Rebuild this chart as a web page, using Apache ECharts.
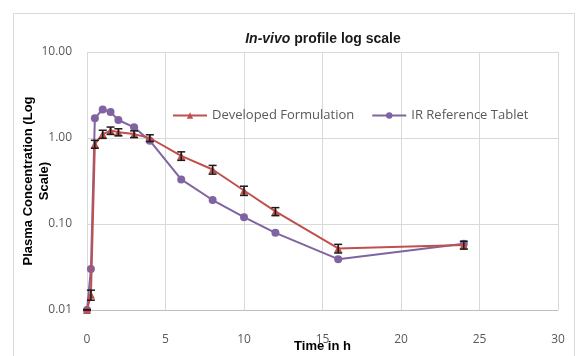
<!DOCTYPE html>
<html>
<head>
<meta charset="utf-8">
<script src="https://cdn.jsdelivr.net/npm/echarts@6/dist/echarts.min.js"></script>
<style>
  html, body { margin: 0; padding: 0; background: #fff; }
  #chart { width: 578px; height: 356px; }
</style>
</head>
<body>
<div id="chart"></div>
<script>
// time points (h)
const timeH = [0, 0.25, 0.5, 1, 1.5, 2, 3, 4, 6, 8, 10, 12, 16, 24]
// mean plasma concentration, developed formulation
const developed = [0.01, 0.015, 0.85, 1.11, 1.22, 1.17, 1.11, 1.0, 0.62, 0.43, 0.245, 0.14, 0.052, 0.057]
// standard deviation for the error bars
const developedSD = [0, 0.002, 0.09, 0.12, 0.12, 0.11, 0.1, 0.09, 0.07, 0.05, 0.03, 0.015, 0.006, 0.006]
// IR reference tablet
const irRef = [0.01, 0.03, 1.7, 2.15, 2.0, 1.62, 1.33, 0.93, 0.33, 0.19, 0.12, 0.079, 0.039, 0.059]
const xTicks = [0, 5, 10, 15, 20, 25, 30]
const yTicks = [0.01, 0.1, 1, 10]

const chart = echarts.init(document.getElementById('chart'))
const labelFont = '"Open Sans", "Liberation Sans", sans-serif'

const option = {
  animation: false,
  textStyle: { fontFamily: labelFont },
  graphic: [{
    type: 'rect',
    shape: { x: 13.5, y: 13.5, width: 561, height: 360 },
    style: { fill: 'none', stroke: '#d9d9d9', lineWidth: 1 },
    silent: true
  }],
  title: {
    text: '{i|In-vivo} profile log scale',
    left: 318,
    textAlign: 'center',
    top: 27,
    textStyle: {
      fontSize: 14,
      fontWeight: 'bold',
      color: '#1a1a1a',
      fontFamily: '"Liberation Sans", sans-serif',
      rich: {
        i: { fontSize: 14, fontWeight: 'bold', fontStyle: 'italic', color: '#1a1a1a', fontFamily: '"Liberation Sans", sans-serif' }
      }
    }
  },
  legend: {
    left: 167,
    top: 104,
    itemWidth: 34,
    itemHeight: 8,
    itemGap: 17,
    textStyle: { fontSize: 13, color: '#595959', fontFamily: labelFont },
    data: ['Developed Formulation', 'IR Reference Tablet']
  },
  grid: { left: 87, right: 20, top: 52, bottom: 46, containLabel: false, outerBoundsMode: 'none' },
  xAxis: {
    type: 'value',
    min: xTicks[0],
    max: xTicks[xTicks.length - 1],
    interval: 5,
    name: 'Time in h',
    nameLocation: 'middle',
    nameGap: 30,
    nameMoveOverlap: false,
    nameTextStyle: { fontSize: 13, fontWeight: 'bold', color: '#000', fontFamily: '"Liberation Sans", sans-serif' },
    axisLine: { show: true, lineStyle: { color: '#bfbfbf' } },
    axisTick: { show: false },
    axisLabel: { margin: 24, fontSize: 12, color: '#595959' },
    splitLine: { show: true, lineStyle: { color: '#d9d9d9' } }
  },
  yAxis: {
    type: 'log',
    logBase: 10,
    min: yTicks[0],
    max: yTicks[yTicks.length - 1],
    name: 'Plasma Concentration (Log\nScale)',
    nameLocation: 'middle',
    nameRotate: 90,
    nameGap: 35,
    nameMoveOverlap: false,
    nameTextStyle: { fontSize: 13, fontWeight: 'bold', color: '#000', lineHeight: 16, fontFamily: '"Liberation Sans", sans-serif' },
    axisLine: { show: false },
    axisTick: { show: false },
    minorTick: { show: false },
    axisLabel: { margin: 15, fontSize: 12, color: '#595959', formatter: v => v.toFixed(2) },
    splitLine: { show: true, lineStyle: { color: '#d9d9d9' } }
  },
  series: [
    {
      name: 'Developed Formulation',
      type: 'line',
      data: timeH.map((t, i) => [t, developed[i]]),
      symbol: 'triangle',
      symbolSize: 8,
      itemStyle: { color: '#C0504D' },
      lineStyle: { color: '#C0504D', width: 2 },
      z: 3
    },
    {
      name: 'IR Reference Tablet',
      type: 'line',
      data: timeH.map((t, i) => [t, irRef[i]]),
      symbol: 'circle',
      symbolSize: 8,
      itemStyle: { color: '#8064A2' },
      lineStyle: { color: '#8064A2', width: 2 },
      z: 2
    },
    {
      name: 'error',
      type: 'custom',
      z: 4,
      data: timeH.map((t, i) => [t, Math.max(developed[i] - developedSD[i], 0.0101), developed[i] + developedSD[i]]),
      renderItem (params, api) {
        const lo = api.coord([api.value(0), api.value(1)])
        const hi = api.coord([api.value(0), api.value(2)])
        const w = 4
        const style = { stroke: '#1a1a1a', lineWidth: 1.5 }
        return {
          type: 'group',
          children: [
            { type: 'line', shape: { x1: lo[0], y1: lo[1], x2: hi[0], y2: hi[1] }, style },
            { type: 'line', shape: { x1: lo[0] - w, y1: lo[1], x2: lo[0] + w, y2: lo[1] }, style },
            { type: 'line', shape: { x1: hi[0] - w, y1: hi[1], x2: hi[0] + w, y2: hi[1] }, style }
          ]
        }
      }
    }
  ]
}
chart.setOption(option)
</script>
</body>
</html>
